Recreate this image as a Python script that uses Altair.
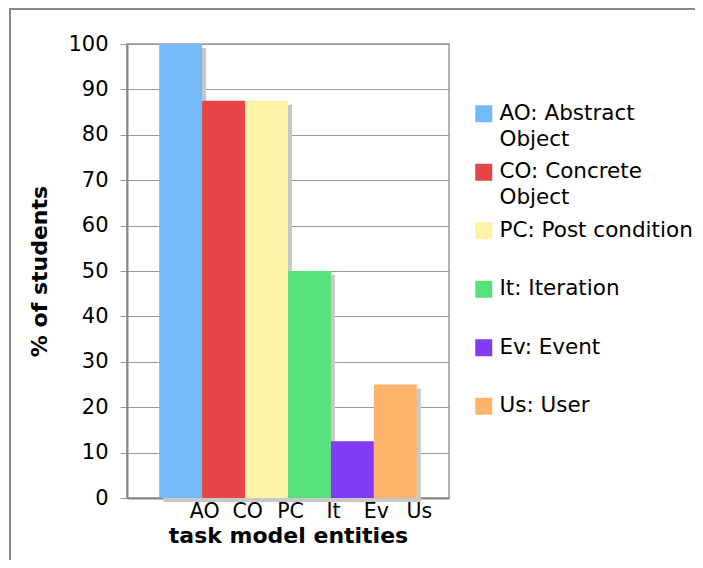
import altair as alt
import pandas as pd

codes = ["AO", "CO", "PC", "It", "Ev", "Us"]
names = ["AO: Abstract\nObject", "CO: Concrete\nObject", "PC: Post condition",
         "It: Iteration", "Ev: Event", "Us: User"]
values = [100, 87.5, 87.5, 50, 12.5, 25]
colors = ["#74B9F8", "#E54547", "#FEF3A7", "#56E27A", "#823CF5", "#FEB46A"]
y_ticks = [0, 10, 20, 30, 40, 50, 60, 70, 80, 90, 100]

df = pd.DataFrame({"code": codes, "name": names, "value": values})

FONT = "DejaVu Sans"
W, H = 322, 454
PAD_L, PAD_T = 119, 36
TOTAL_W, TOTAL_H = 687, 552

x_enc = alt.X("code:N", sort=codes,
              scale=alt.Scale(paddingInner=0, paddingOuter=0.75),
              axis=alt.Axis(title="task model entities", labelAngle=0, ticks=False,
                            labelOffset=24, labelPadding=3, labelFontSize=20.5,
                            titleFontSize=22, titleFontWeight="bold", titlePadding=4,
                            grid=False, domainColor="#888", domainWidth=2))
y_enc = alt.Y("value:Q", scale=alt.Scale(domain=[0, 100], nice=False),
              axis=alt.Axis(title="% of students", values=y_ticks, tickSize=7,
                            labelPadding=12, labelFontSize=21, titleFontSize=22,
                            titleFontWeight="bold", titlePadding=16,
                            gridColor="#999", tickColor="#999",
                            domainColor="#888", domainWidth=2))

base = alt.Chart(df)

shadow = base.mark_bar(color="#c8c8c8", xOffset=4, yOffset=4).encode(x=x_enc, y=y_enc)

bars = base.mark_bar().encode(
    x=x_enc, y=y_enc,
    color=alt.Color("name:N", sort=names,
                    scale=alt.Scale(domain=names, range=colors),
                    legend=alt.Legend(title=None, orient="none", legendX=346, legendY=59,
                                      labelExpr="split(datum.label, '\\n')",
                                      symbolType="square", symbolSize=289,
                                      symbolStrokeWidth=0, labelFontSize=21.5,
                                      labelOffset=5, gridAlign="all", rowPadding=9.5,
                                      padding=0, labelLimit=300)),
)

frame_top = alt.Chart(pd.DataFrame({"a": [0]})).mark_rule(color="#888", strokeWidth=2).encode(
    x=alt.value(-PAD_L + 1), x2=alt.value(TOTAL_W - PAD_L), y=alt.value(-PAD_T + 1))
frame_left = alt.Chart(pd.DataFrame({"a": [0]})).mark_rule(color="#888", strokeWidth=2).encode(
    x=alt.value(-PAD_L + 2), y=alt.value(-PAD_T), y2=alt.value(TOTAL_H - PAD_T))

chart = alt.layer(shadow, bars, frame_top, frame_left).properties(
    width=W, height=H,
    autosize=alt.AutoSizeParams(type="none"),
    padding={"left": PAD_L, "top": PAD_T, "right": TOTAL_W - PAD_L - W,
             "bottom": TOTAL_H - PAD_T - H},
).configure(
    view={"stroke": "#999", "strokeWidth": 1.5},
    axis={"labelFont": FONT, "titleFont": FONT, "labelColor": "black", "titleColor": "black"},
    legend={"labelFont": FONT, "labelColor": "black"},
    style={"guide-label": {"lineHeight": 26}},
)

chart.save("out.html", embed_options={"renderer": "svg", "actions": False})
